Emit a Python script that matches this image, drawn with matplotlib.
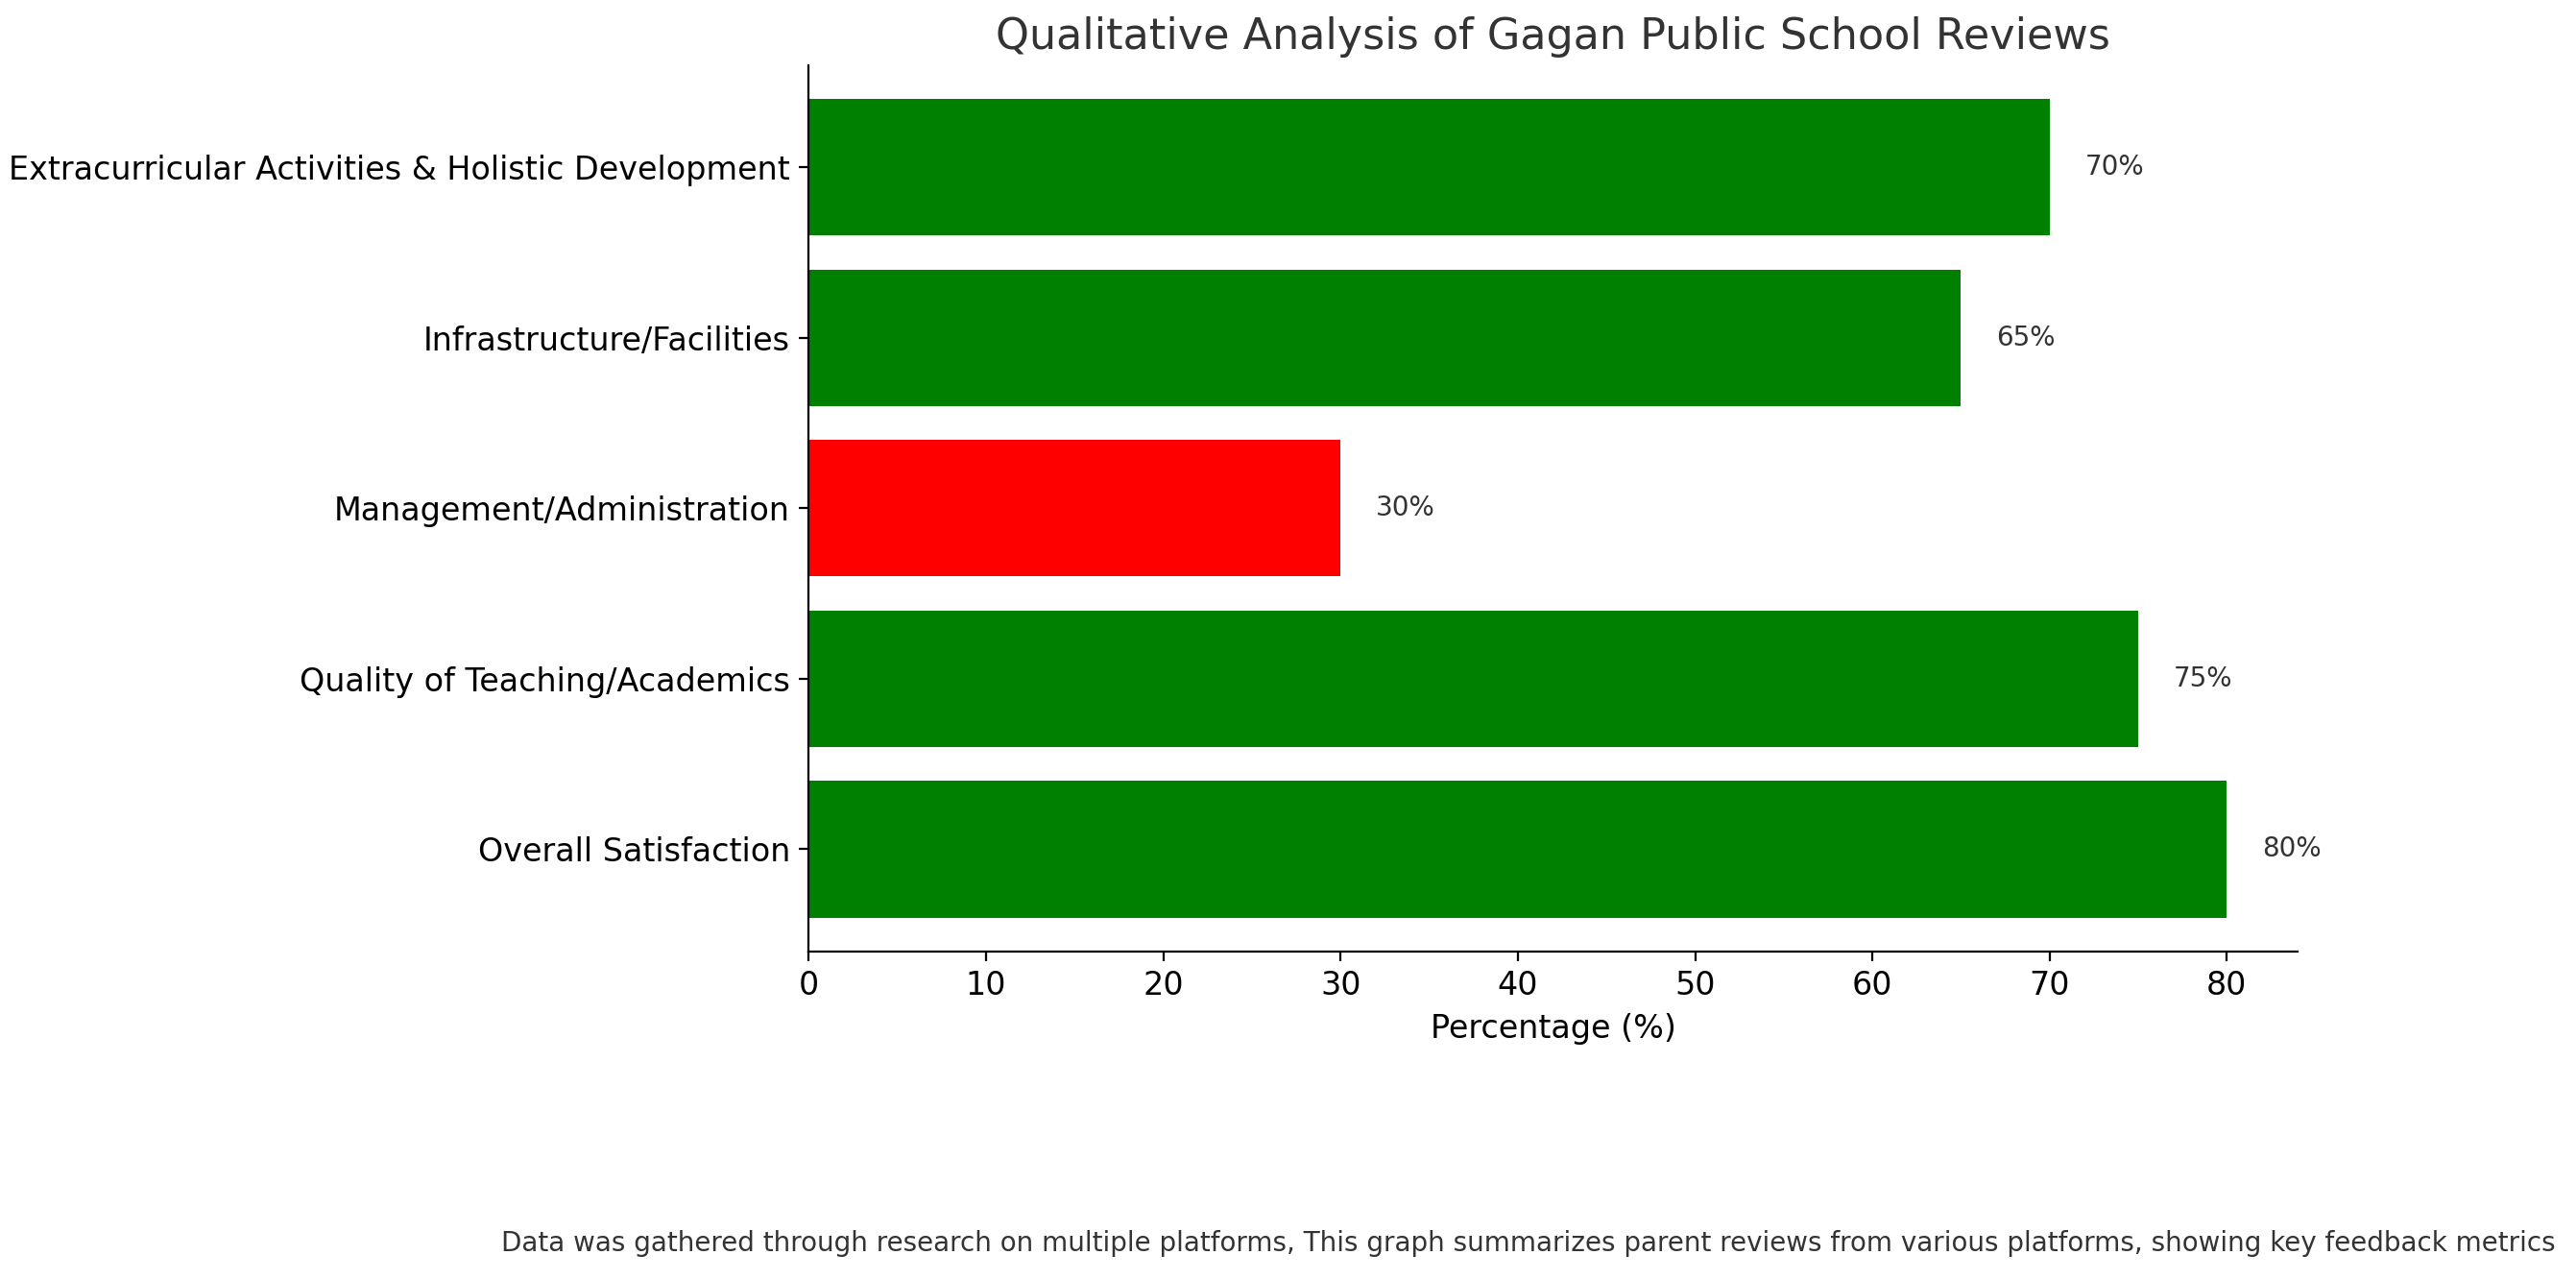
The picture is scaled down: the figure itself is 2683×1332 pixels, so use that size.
import matplotlib.pyplot as plt

categories = [
    "Overall Satisfaction",
    "Quality of Teaching/Academics",
    "Management/Administration",
    "Infrastructure/Facilities",
    "Extracurricular Activities & Holistic Development",
]
percentages = [80, 75, 30, 65, 70]
colors = ["green", "green", "red", "green", "green"]

fig = plt.figure(figsize=(13.415, 6.66), dpi=200)
ax = fig.add_axes([0.314, 0.256, 0.578, 0.693])
bars = ax.barh(categories, percentages, color=colors, height=0.8)
for bar, val in zip(bars, percentages):
    ax.text(bar.get_width() + 2, bar.get_y() + bar.get_height() / 2, f"{val}%",
            va="center", ha="left", fontsize=10, color="#333333")

ax.set_xlim(0, 84)
ax.set_ylim(-0.6, 4.6)
ax.set_xlabel("Percentage (%)", fontsize=12)
ax.set_title("Qualitative Analysis of Gagan Public School Reviews", fontsize=16, color="#333333")
ax.tick_params(axis="both", labelsize=12)
ax.spines["top"].set_visible(False)
ax.spines["right"].set_visible(False)

fig.text(0.992, 0.028,
         "Data was gathered through research on multiple platforms, This graph summarizes parent reviews from various platforms, showing key feedback metrics",
         ha="right", va="center", fontsize=10, color="#333333")

fig.savefig("out.png", dpi=200)
